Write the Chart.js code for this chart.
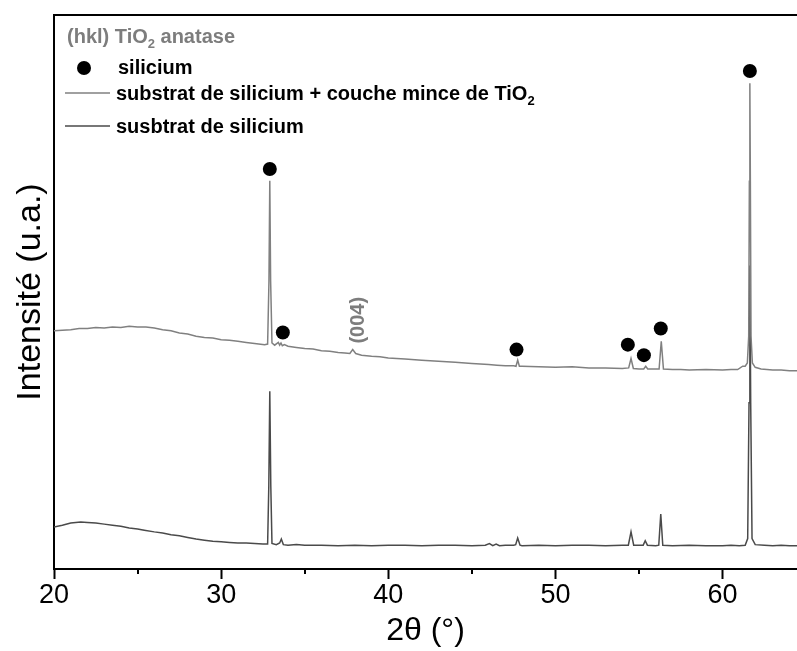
<!DOCTYPE html>
<html>
<head>
<meta charset="utf-8">
<script src="https://cdn.jsdelivr.net/npm/chart.js@4/dist/chart.umd.min.js"></script>
<style>
  html, body { margin: 0; padding: 0; background: #fff; }
  canvas { display: block; }
</style>
</head>
<body>
<canvas id="xrd" width="797" height="651"></canvas>
<script>
// ---------------------------
// Data (2theta in degrees, intensity in arbitrary units)
// ---------------------------
const xMinorTicks = [25, 35, 45, 55];

// substrat de silicium + couche mince de TiO2 (upper trace)
const filmX = [20, 20.5, 21, 21.5, 22, 22.5, 23, 23.5, 24, 24.5, 25, 25.5, 26, 26.5, 27, 27.5, 28, 28.5, 29, 29.5,
  30, 30.5, 31, 31.5, 32, 32.6, 32.78, 32.86, 32.91, 32.96, 33.04, 33.2, 33.42, 33.5, 33.58, 33.66, 33.78, 34,
  34.5, 35, 35.5, 36, 36.5, 37, 37.4, 37.7, 37.87, 38.05, 38.4, 39, 39.5, 40, 41, 42, 43, 44, 45, 46, 46.5, 47,
  47.5, 47.64, 47.74, 47.84, 48, 49, 50, 51, 52, 53, 54, 54.38, 54.52, 54.66, 55, 55.28, 55.4, 55.52, 55.9,
  56.2, 56.33, 56.46, 57, 57.5, 58, 59, 60, 60.5, 60.9, 61.2, 61.35, 61.48, 61.56, 61.6, 61.63, 61.66, 61.7,
  61.78, 61.95, 62.3, 63, 63.5, 64, 64.45];
const filmY = [430, 431, 432, 434, 434, 436, 435, 437, 436, 438, 437, 437, 435, 432, 430, 426, 424, 420, 418, 417,
  414, 413, 411, 409, 407, 405, 406, 520, 701, 520, 408, 404, 409, 404, 408, 403, 405, 402,
  400, 398, 397, 394, 393, 391, 390, 389, 396, 389, 386, 384, 383, 381, 379, 377, 375, 373, 371, 369, 368, 367,
  367, 366, 377, 366, 366, 365, 364, 365, 363, 363, 362, 363, 380, 362, 361, 361, 366, 361, 361,
  361, 411, 361, 360, 360, 359, 360, 359, 360, 360, 366, 366, 372, 420, 700, 877, 700, 420,
  372, 364, 361, 359, 359, 358, 358];

// susbtrat de silicium (lower trace)
const substrX = [20, 20.5, 21, 21.6, 22, 22.5, 23, 23.5, 24, 24.5, 25, 25.4, 26, 26.5, 27, 27.5, 28, 28.5, 29,
  29.5, 30, 30.5, 31, 31.5, 32, 32.5, 32.78, 32.85, 32.91, 32.97, 33.04, 33.3, 33.5, 33.6, 33.72, 34, 34.5, 35,
  36, 37, 38, 39, 40, 41, 42, 43, 44, 45, 45.8, 46.05, 46.25, 46.45, 46.65, 47, 47.5, 47.62, 47.74, 47.88, 48,
  49, 50, 51, 52, 53, 54, 54.36, 54.52, 54.68, 55, 55.25, 55.37, 55.5, 56, 56.18, 56.3, 56.42, 57, 58, 59, 60,
  60.5, 61, 61.35, 61.5, 61.58, 61.63, 61.68, 61.76, 61.95, 62.5, 63, 63.5, 64, 64.45];
const substrY = [76, 79, 83, 85, 84, 83, 81, 79, 77, 74, 72, 70, 67, 65, 62, 60, 57, 54, 52,
  50, 49, 48, 47, 47, 46, 45, 45, 150, 321, 150, 46, 44, 47, 54, 44, 43, 44, 43,
  43, 42, 43, 42, 43, 43, 42, 43, 43, 42, 43, 46, 42, 45, 42, 43, 43, 44, 56, 43, 42,
  43, 42, 43, 43, 42, 43, 43, 67, 43, 43, 43, 51, 43, 42, 43, 99, 43, 42, 43, 42, 42,
  43, 42, 43, 55, 300, 548, 300, 55, 44, 43, 42, 43, 42, 42];

// silicium reflections (markers)
const siliciumX = [32.91, 33.69, 47.67, 54.33, 55.29, 56.30, 61.63];
const siliciumY = [722, 427, 396, 405, 386, 434, 899];

// TiO2 anatase reflection label
const anataseLabel = "(004)";
const anataseX = 38.2;
const anataseY = 449;

const toPoints = (xs, ys) => xs.map((x, i) => ({ x: x, y: ys[i] }));

// ---------------------------
// Frame, minor ticks, legend, annotations
// ---------------------------
const decorations = {
  id: "decorations",
  afterDraw(chart) {
    const { ctx, chartArea } = chart;
    const xs = chart.scales.x;
    const ys = chart.scales.y;
    ctx.save();

    // top frame line
    ctx.strokeStyle = "#000";
    ctx.lineWidth = 2;
    ctx.beginPath();
    ctx.moveTo(chartArea.left - 1, chartArea.top);
    ctx.lineTo(chartArea.right, chartArea.top);
    ctx.stroke();

    // minor ticks
    for (const v of xMinorTicks) {
      const px = Math.round(xs.getPixelForValue(v));
      ctx.beginPath();
      ctx.moveTo(px, chartArea.bottom);
      ctx.lineTo(px, chartArea.bottom + 5);
      ctx.stroke();
    }

    // (004) label
    ctx.save();
    ctx.translate(xs.getPixelForValue(anataseX), ys.getPixelForValue(anataseY));
    ctx.rotate(-Math.PI / 2);
    ctx.fillStyle = "#7d7d7d";
    ctx.font = 'bold 20px "Liberation Sans", Arial, sans-serif';
    ctx.textAlign = "center";
    ctx.textBaseline = "middle";
    ctx.fillText(anataseLabel, 0, 0);
    ctx.restore();

    // legend
    const big = 'bold 20px "Liberation Sans", Arial, sans-serif';
    const sub = 'bold 13px "Liberation Sans", Arial, sans-serif';
    ctx.textAlign = "left";
    ctx.textBaseline = "alphabetic";

    function withSub(x, y, pre, s, post, color){
      ctx.fillStyle = color;
      ctx.font = big;
      ctx.fillText(pre, x, y);
      x += ctx.measureText(pre).width;
      ctx.font = sub;
      ctx.fillText(s, x, y + 5);
      x += ctx.measureText(s).width;
      ctx.font = big;
      if (post) ctx.fillText(post, x, y);
    }

    const lx = chartArea.left;
    withSub(lx + 13, 43, "(hkl) TiO", "2", " anatase", "#7d7d7d");

    ctx.fillStyle = "#000";
    ctx.beginPath();
    ctx.arc(lx + 30, 68, 7, 0, Math.PI * 2);
    ctx.fill();
    ctx.font = big;
    ctx.fillText("silicium", lx + 64, 74);

    ctx.lineWidth = 1.5;
    ctx.strokeStyle = "#808080";
    ctx.beginPath();
    ctx.moveTo(lx + 11, 93);
    ctx.lineTo(lx + 56, 93);
    ctx.stroke();
    withSub(lx + 62, 100, "substrat de silicium + couche mince de TiO", "2", "", "#000");

    ctx.strokeStyle = "#4a4a4a";
    ctx.beginPath();
    ctx.moveTo(lx + 11, 126);
    ctx.lineTo(lx + 56, 126);
    ctx.stroke();
    ctx.fillStyle = "#000";
    ctx.font = big;
    ctx.fillText("susbtrat de silicium", lx + 62, 133);

    ctx.restore();
  }
};

// ---------------------------
// Chart
// ---------------------------
const sans = '"Liberation Sans", Arial, sans-serif';

new Chart(document.getElementById("xrd"), {
  type: "scatter",
  data: {
    datasets: [
      {
        label: "silicium",
        data: toPoints(siliciumX, siliciumY),
        showLine: false,
        pointRadius: 7,
        pointHoverRadius: 7,
        backgroundColor: "#000",
        borderColor: "#000",
        borderWidth: 0
      },
      {
        label: "substrat de silicium + couche mince de TiO2",
        data: toPoints(filmX, filmY),
        showLine: true,
        pointRadius: 0,
        borderColor: "#808080",
        borderWidth: 1.5,
        tension: 0
      },
      {
        label: "susbtrat de silicium",
        data: toPoints(substrX, substrY),
        showLine: true,
        pointRadius: 0,
        borderColor: "#4a4a4a",
        borderWidth: 1.5,
        tension: 0
      }
    ]
  },
  options: {
    responsive: false,
    animation: false,
    events: [],
    layout: { autoPadding: false, padding: { top: 15, right: 0, left: 0, bottom: 0 } },
    plugins: {
      legend: { display: false },
      tooltip: { enabled: false }
    },
    scales: {
      x: {
        type: "linear",
        min: 20,
        max: 64.45,
        afterFit: (s) => { s.height = 82; s.paddingRight = 0; s.paddingLeft = 0; },
        ticks: {
          stepSize: 10,
          includeBounds: false,
          color: "#000",
          font: { family: sans, size: 27 },
          padding: 0,
          maxRotation: 0
        },
        grid: {
          display: true,
          drawOnChartArea: false,
          drawTicks: true,
          tickLength: 10,
          tickWidth: 2,
          tickColor: "#000"
        },
        border: { display: true, color: "#000", width: 2 },
        title: {
          display: true,
          text: "2θ (°)",
          color: "#000",
          font: { family: sans, size: 32 },
          padding: { top: 0, bottom: 1 }
        }
      },
      y: {
        type: "linear",
        min: 0,
        max: 1000,
        afterFit: (s) => { s.width = 54; },
        ticks: { display: false },
        grid: { display: true, drawOnChartArea: false, drawTicks: false },
        border: { display: true, color: "#000", width: 2 },
        title: {
          display: true,
          text: "Intensité (u.a.)",
          color: "#000",
          font: { family: sans, size: 34 },
          padding: { top: 10, bottom: 0 }
        }
      }
    }
  },
  plugins: [decorations]
});
</script>
</body>
</html>
